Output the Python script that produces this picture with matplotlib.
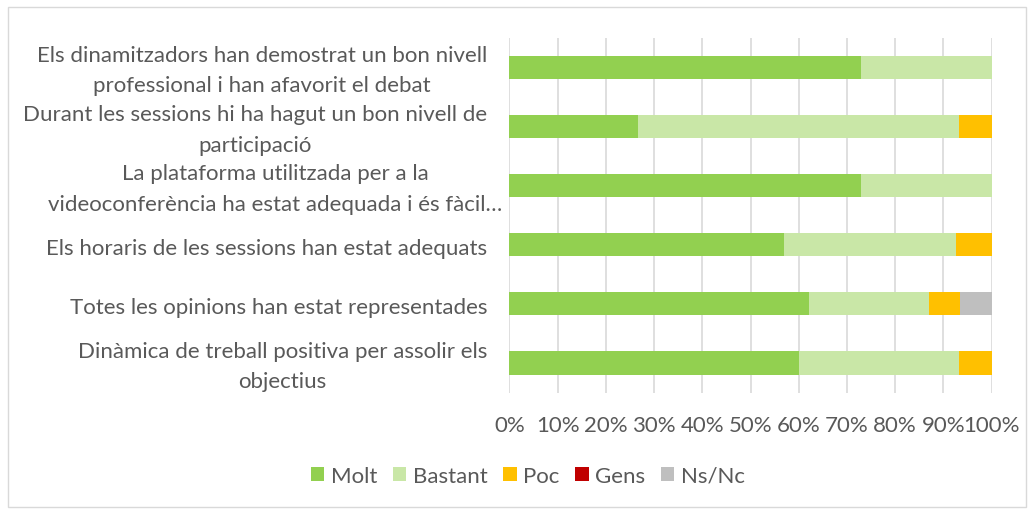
import matplotlib
matplotlib.use("Agg")
import matplotlib.pyplot as plt
from matplotlib.patches import Rectangle, Patch
from matplotlib.ticker import PercentFormatter
import matplotlib.transforms as mtransforms

plt.rcParams['font.family'] = ['Lato', 'DejaVu Sans']

categories = [
    "Els dinamitzadors han demostrat un bon nivell\nprofessional i han afavorit el debat",
    "Durant les sessions hi ha hagut un bon nivell de\nparticipació",
    "La plataforma utilitzada per a la\nvideoconferència ha estat adequada i és fàcil…",
    "Els horaris de les sessions han estat adequats",
    "Totes les opinions han estat representades",
    "Dinàmica de treball positiva per assolir els\nobjectius",
]
series_names = ["Molt", "Bastant", "Poc", "Gens", "Ns/Nc"]
molt    = [72.9, 26.7, 72.9, 56.9, 62.1, 60.0]
bastant = [27.1, 66.5, 27.1, 35.6, 25.0, 33.2]
poc     = [0.0, 6.8, 0.0, 7.5, 6.3, 6.8]
gens    = [0.0, 0.0, 0.0, 0.0, 0.0, 0.0]
nsnc    = [0.0, 0.0, 0.0, 0.0, 6.6, 0.0]
colors = ["#92D050", "#C9E7A7", "#FFC000", "#C00000", "#BFBFBF"]
xticks = [0, 10, 20, 30, 40, 50, 60, 70, 80, 90, 100]

text_color = "#595959"
FS = 16
W, H = 1035, 510
fig = plt.figure(figsize=(W / 100, H / 100), dpi=100)
fig.patches.append(Rectangle((8 / W, 2 / H), (1026 - 8) / W, (H - 10) / H,
                             transform=fig.transFigure, fill=False,
                             edgecolor="#D9D9D9", linewidth=1.0))

ax = fig.add_axes([509.3 / W, (H - 393.6) / H, 482.4 / W, 354.9 / H])
ypos = list(range(len(categories)))
left = [0.0] * len(categories)
for name, vals, c in zip(series_names, [molt, bastant, poc, gens, nsnc], colors):
    ax.barh(ypos, vals, left=left, height=0.39, color=c, label=name, zorder=3)
    left = [l + v for l, v in zip(left, vals)]

ax.set_xlim(0, 100)
ax.set_ylim(len(categories) - 0.5, -0.5)
ax.set_xticks(xticks)
ax.xaxis.set_major_formatter(PercentFormatter(decimals=0))
ax.grid(axis="x", color="#D9D9D9", linewidth=1.2, zorder=0)
ax.set_axisbelow(True)
for s in ax.spines.values():
    s.set_visible(False)
ax.tick_params(axis="both", length=0, colors=text_color, labelsize=FS)
ax.tick_params(axis="x", pad=16)
ax.set_yticks(ypos)
ax.set_yticklabels([""] * len(categories))

offsets = [-22, -22, -7, -22, -22, -22]
for y, lab, off in zip(ypos, categories, offsets):
    tr = mtransforms.blended_transform_factory(ax.transAxes, ax.transData)
    tr = tr + mtransforms.ScaledTranslation(off / 100, 3 / 100 * (-1), fig.dpi_scale_trans)
    ax.text(0, y, lab, transform=tr, ha="right", va="center",
            multialignment="center", fontsize=FS, color=text_color,
            linespacing=1.65)

handles = [Patch(facecolor=c, edgecolor="none") for c in colors]
leg = fig.legend(handles, series_names, loc="center", bbox_to_anchor=(528 / W, (H - 477) / H),
                 ncol=5, frameon=False, fontsize=FS, handlelength=0.6, handleheight=0.6,
                 handletextpad=0.3, columnspacing=0.7)
for t in leg.get_texts():
    t.set_color(text_color)

fig.savefig("out.png", dpi=100)
